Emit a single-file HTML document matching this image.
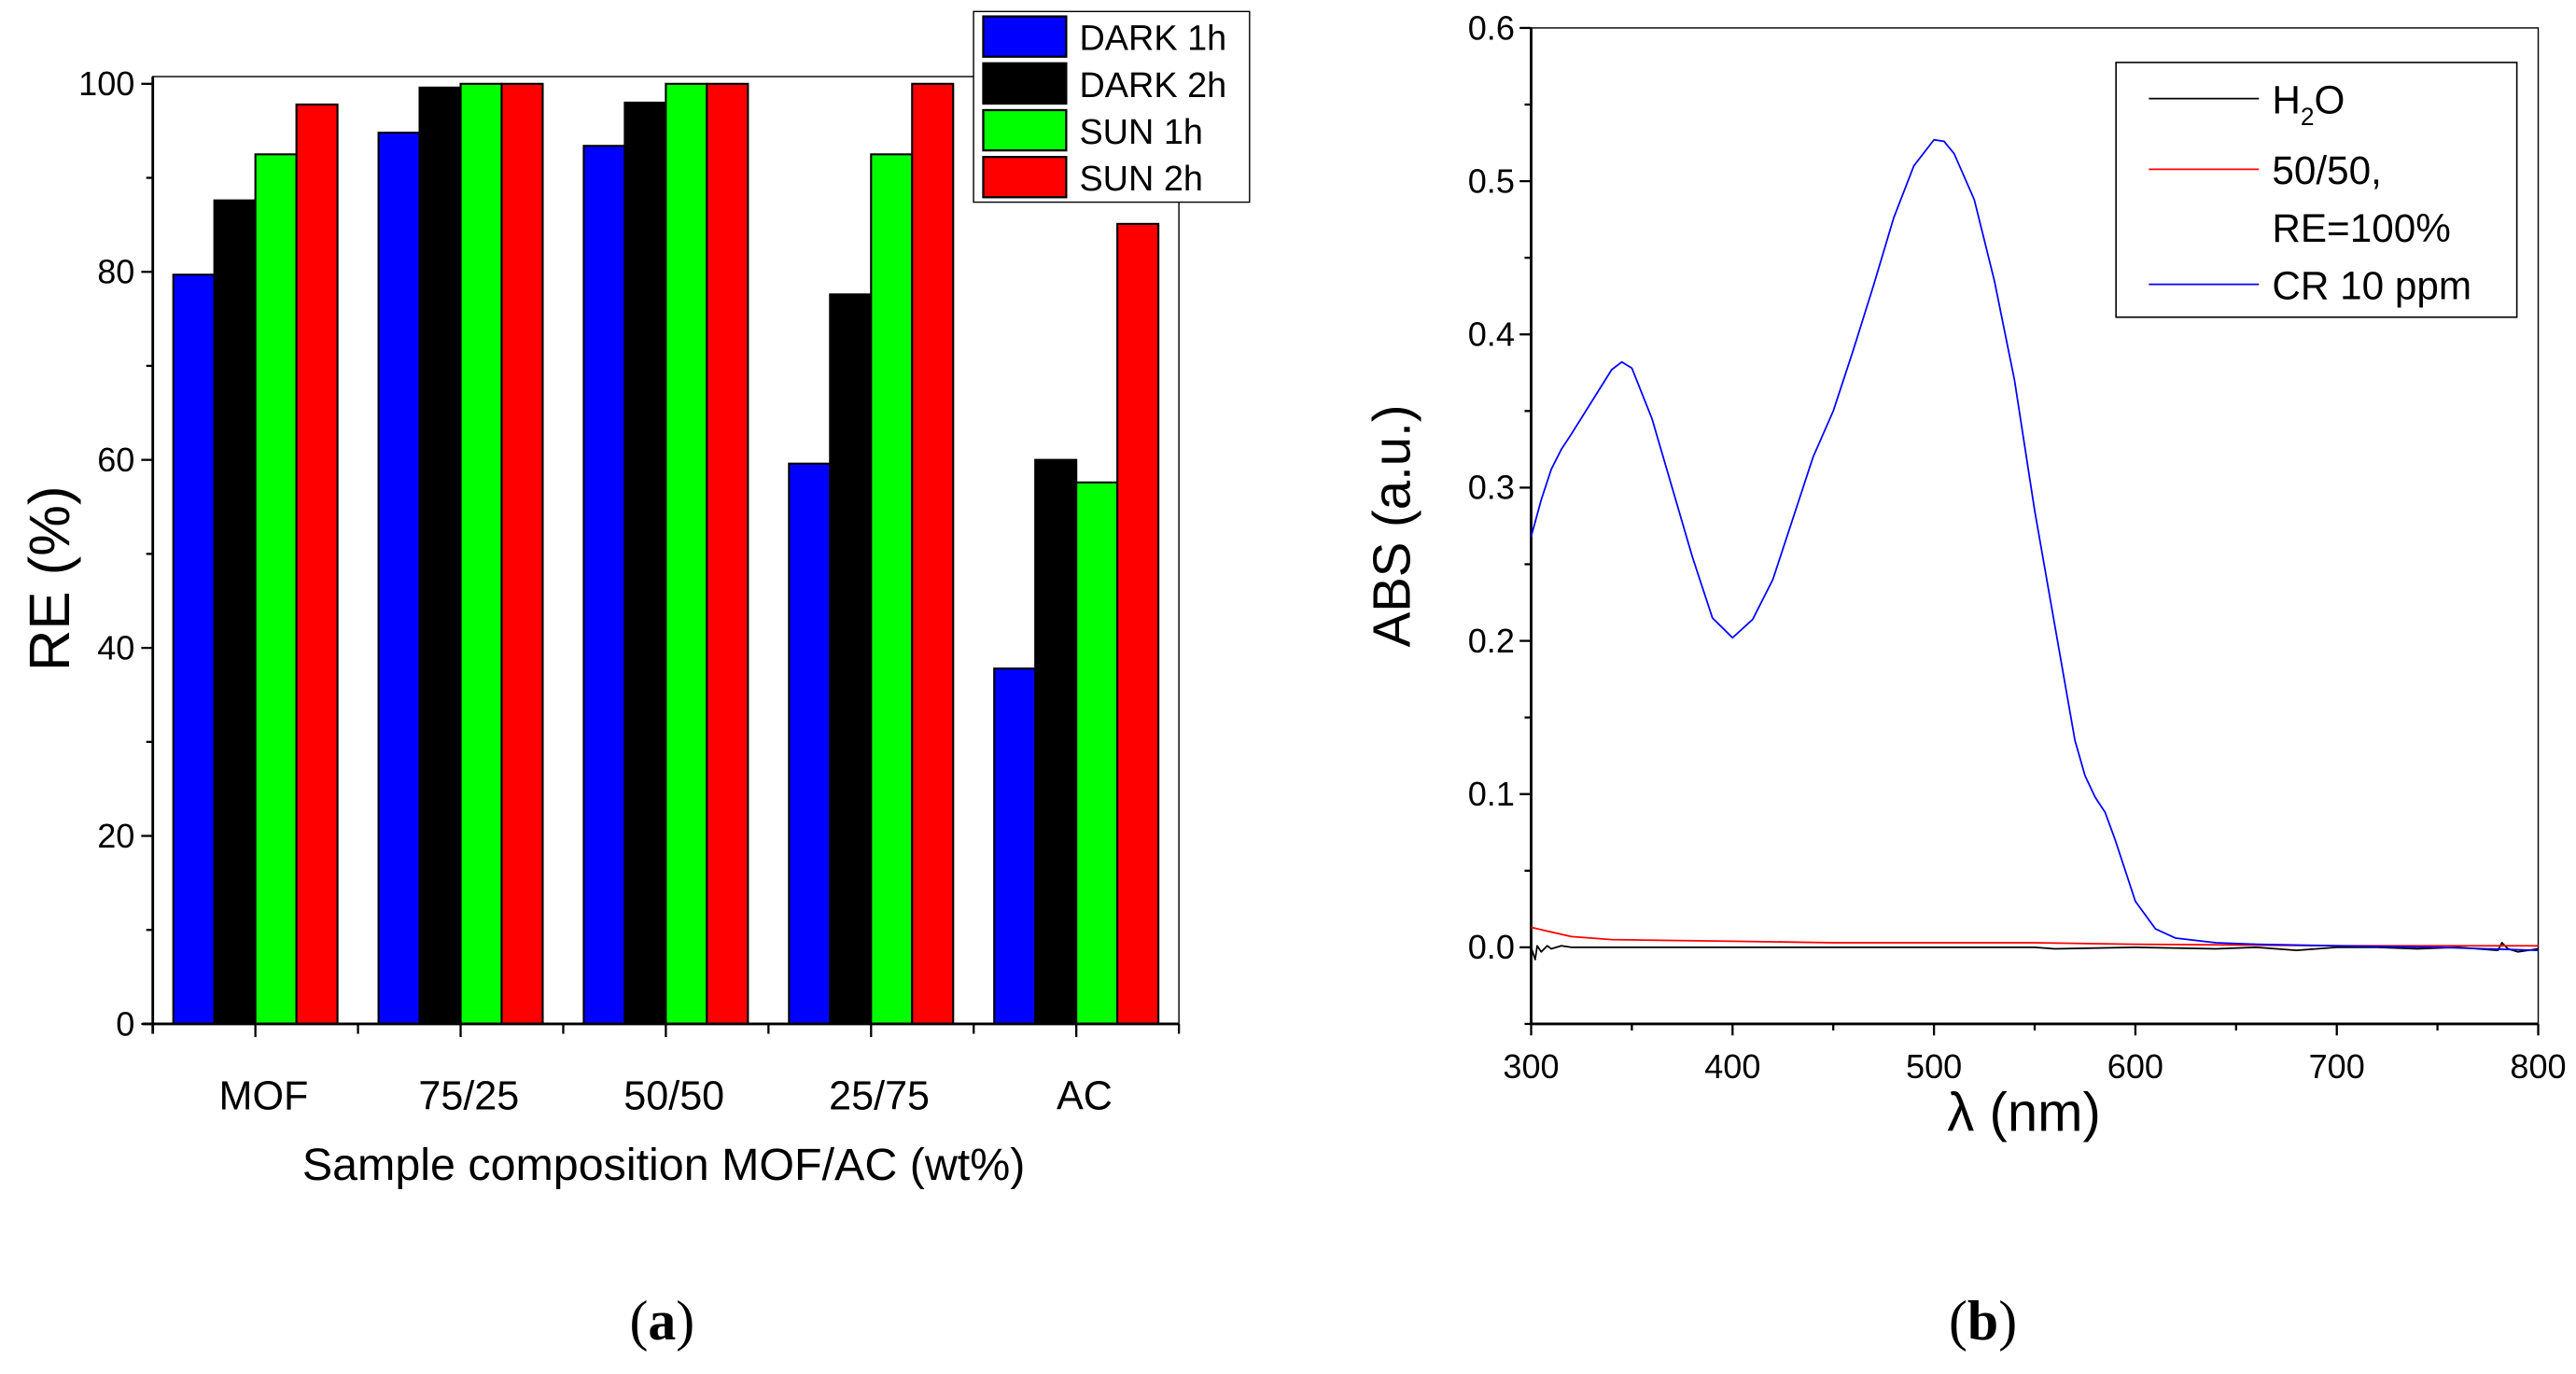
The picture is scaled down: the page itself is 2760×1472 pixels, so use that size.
<!DOCTYPE html>
<html><head><meta charset="utf-8"><style>
html,body{margin:0;padding:0;background:#fff;}
svg{display:block;}
text{font-family:"Liberation Sans",Arial,sans-serif;fill:#000;}
</style></head><body>
<svg id="fig" width="2760" height="1472" viewBox="0 0 1568 836" preserveAspectRatio="none" xmlns="http://www.w3.org/2000/svg">
<g id="chartA"></g>
<g id="chartB"></g>
</svg>
<script>
// ---- Chart (a) data ----
const categories = ["MOF","75/25","50/50","25/75","AC"];
const seriesNames = ["DARK 1h","DARK 2h","SUN 1h","SUN 2h"];
const dark1h = [79.7, 94.8, 93.4, 59.6, 37.8];
const dark2h = [87.6, 99.6, 98.0, 77.6, 60.0];
const sun1h  = [92.5, 100, 100, 92.5, 57.6];
const sun2h  = [97.8, 100, 100, 100, 85.1];
const yTicksA = [0,20,40,60,80,100];

// ---- Chart (b) data ----
const crWl  = [300,305,310,315,320,330,340,345,350,360,370,380,390,400,410,420,430,440,450,460,470,480,490,500,505,510,520,530,540,550,560,570,575,580,585,590,600,610,620,640,660,700,750,800];
const crAbs = [0.268,0.292,0.312,0.325,0.335,0.356,0.377,0.382,0.378,0.345,0.300,0.255,0.215,0.202,0.214,0.240,0.280,0.320,0.350,0.390,0.432,0.476,0.510,0.527,0.526,0.518,0.488,0.435,0.370,0.285,0.210,0.135,0.112,0.098,0.088,0.070,0.030,0.012,0.006,0.003,0.002,0.001,0.000,-0.002];
const redWl  = [300,310,320,340,400,450,500,550,600,700,800];
const redAbs = [0.013,0.010,0.007,0.005,0.004,0.003,0.003,0.003,0.002,0.001,0.001];
const h2oWl  = [300,301,302,303,305,308,310,315,320,330,350,400,450,500,550,560,600,640,660,680,700,720,740,760,780,782,785,790,800];
const h2oAbs = [0.000,-0.004,-0.008,0.001,-0.003,0.001,-0.001,0.001,0.000,0.000,0.000,0.000,0.000,0.000,0.000,-0.001,0.000,-0.001,0.000,-0.002,0.000,0.000,-0.001,0.000,-0.002,0.003,-0.001,-0.003,-0.001];
const xTicksB = [300,400,500,600,700,800];
const yTicksB = [0.0,0.1,0.2,0.3,0.4,0.5,0.6];

const NS="http://www.w3.org/2000/svg";
function mk(parent,tag,attrs,txt){const e=document.createElementNS(NS,tag);for(const k in attrs)e.setAttribute(k,attrs[k]);if(txt!==undefined)e.textContent=txt;parent.appendChild(e);return e;}

// ===== Chart A =====
const A=document.getElementById('chartA');
const aL=93,aR=717.6,aT=46.6,aB=623,aY100=51;
const ya=v=>aB-(v/100)*(aB-aY100);
const gw=(aR-aL)/categories.length;
const colors=["#0000ff","#000000","#00ff00","#ff0000"];
const allSeries=[dark1h,dark2h,sun1h,sun2h];
let fr=mk(A,'rect',{x:aL,y:aT,width:aR-aL,height:aB-aT,fill:'none',stroke:'#000','stroke-width':0.8});


allSeries.forEach((s,si)=>{
  s.forEach((v,ci)=>{
    const x=aL+gw*ci+gw*0.1+si*gw*0.2;
    const r=mk(A,'rect',{x:x,y:ya(v),width:gw*0.2,height:aB-ya(v),fill:colors[si],stroke:'#000','stroke-width':1.2});
    
    
  });
});
mk(A,'line',{x1:aL,y1:aT,x2:aL,y2:aB+6,stroke:'#000','stroke-width':1.6});
mk(A,'line',{x1:aL-6,y1:aB,x2:aR,y2:aB,stroke:'#000','stroke-width':1.6});
for(let v=0;v<=100;v+=10){
  const major=v%20===0;
  mk(A,'line',{x1:aL-(major?7:4),y1:ya(v),x2:aL,y2:ya(v),stroke:'#000','stroke-width':1.3});
}
yTicksA.forEach(v=>{
  const t=mk(A,'text',{x:aL-11,y:ya(v)+7,'text-anchor':'end','font-size':20.5},String(v));
  
  
});
for(let i=0;i<=categories.length;i++){mk(A,'line',{x1:aL+gw*i,y1:aB,x2:aL+gw*i,y2:aB+6,stroke:'#000','stroke-width':1.3});}
categories.forEach((c,i)=>{
  const cx=aL+gw*(i+0.5);
  mk(A,'line',{x1:cx,y1:aB,x2:cx,y2:aB+8,stroke:'#000','stroke-width':1.3});
  const t=mk(A,'text',{x:cx+5,y:aB+52,'text-anchor':'middle','font-size':24.5},c);
  
  
});
let t=mk(A,'text',{x:404,y:718,'text-anchor':'middle','font-size':27.5},'Sample composition MOF/AC (wt%)');


t=mk(A,'text',{x:0,y:0,'text-anchor':'middle','font-size':35,transform:'translate(42,352) rotate(-90)'},'RE (%)');


// legend
const lg=mk(A,'g',{});


mk(lg,'rect',{x:592.6,y:7,width:168,height:116,fill:'#fff',stroke:'#000','stroke-width':0.8});
seriesNames.forEach((n,i)=>{
  const y=10+i*28.5;
  const g=mk(lg,'g',{});
  
  
  mk(g,'rect',{x:598.5,y:y,width:50.5,height:24.5,fill:colors[i],stroke:'#000','stroke-width':1.3});
  mk(g,'text',{x:657,y:y+20.5,'font-size':21.5},n);
});
t=mk(A,'text',{x:403,y:815,'text-anchor':'middle','font-size':34,style:'font-family:"Liberation Serif",serif'},'');
t.innerHTML='(<tspan font-weight="bold">a</tspan>)';



// ===== Chart B =====
const B=document.getElementById('chartB');
const bL=932,bR=1545,bT=17,bB=623;
const xb=w=>bL+(w-300)/500*(bR-bL);
const yb=v=>bB-(v+0.05)/0.65*(bB-bT);
fr=mk(B,'rect',{x:bL,y:bT,width:bR-bL,height:bB-bT,fill:'none',stroke:'#000','stroke-width':0.8});


mk(B,'line',{x1:bL,y1:bT,x2:bL,y2:bB,stroke:'#000','stroke-width':1.6});
mk(B,'line',{x1:bL,y1:bB,x2:bR,y2:bB,stroke:'#000','stroke-width':1.6});
for(let v=-0.05;v<=0.6001;v+=0.05){
  const major=Math.abs(Math.round(v*20))%2===0;
  mk(B,'line',{x1:bL-(major?7:4),y1:yb(v),x2:bL,y2:yb(v),stroke:'#000','stroke-width':1.3});
}
yTicksB.forEach(v=>{
  const tt=mk(B,'text',{x:bL-10,y:yb(v)+7,'text-anchor':'end','font-size':20.5},v.toFixed(1));
  
  
});
for(let w=300;w<=800;w+=50){
  const major=w%100===0;
  mk(B,'line',{x1:xb(w),y1:bB,x2:xb(w),y2:bB+(major?7:4),stroke:'#000','stroke-width':1.3});
}
xTicksB.forEach(w=>{
  const tt=mk(B,'text',{x:xb(w),y:bB+33,'text-anchor':'middle','font-size':20.5},String(w));
  
  
});
function line(wl,ab,col,name){
  const d=wl.map((w,i)=>(i?'L':'M')+xb(w).toFixed(2)+','+yb(ab[i]).toFixed(2)).join(' ');
  const p=mk(B,'path',{d:d,fill:'none',stroke:col,'stroke-width':1,'stroke-linejoin':'round'});
  
  
}
line(h2oWl,h2oAbs,'#000','h2o-line');
line(redWl,redAbs,'#ff0000','sample-50-50-line');
line(crWl,crAbs,'#0000ff','cr-10ppm-line');
t=mk(B,'text',{x:1232,y:688,'text-anchor':'middle','font-size':33},'λ (nm)');


t=mk(B,'text',{x:0,y:0,'text-anchor':'middle','font-size':32,transform:'translate(858,320) rotate(-90)'},'ABS (a.u.)');


const lb=mk(B,'g',{});


mk(lb,'rect',{x:1288,y:38,width:244,height:155,fill:'#fff',stroke:'#000','stroke-width':0.9});
const e1=mk(lb,'g',{});
mk(e1,'line',{x1:1308,y1:60,x2:1375,y2:60,stroke:'#000','stroke-width':1});
const h=mk(e1,'text',{x:1383,y:69,'font-size':24},'');h.innerHTML='H<tspan font-size="15" dy="7">2</tspan><tspan dy="-7">O</tspan>';
const e2=mk(lb,'g',{});
mk(e2,'line',{x1:1308,y1:103,x2:1375,y2:103,stroke:'#ff0000','stroke-width':1});
mk(e2,'text',{x:1383,y:112,'font-size':24},'50/50,');
mk(e2,'text',{x:1383,y:147,'font-size':24},'RE=100%');
const e3=mk(lb,'g',{});
mk(e3,'line',{x1:1308,y1:173,x2:1375,y2:173,stroke:'#0000ff','stroke-width':1});
mk(e3,'text',{x:1383,y:182,'font-size':24},'CR 10 ppm');
t=mk(B,'text',{x:1207,y:815,'text-anchor':'middle','font-size':34,style:'font-family:"Liberation Serif",serif'},'');
t.innerHTML='(<tspan font-weight="bold">b</tspan>)';


</script>
</body></html>
